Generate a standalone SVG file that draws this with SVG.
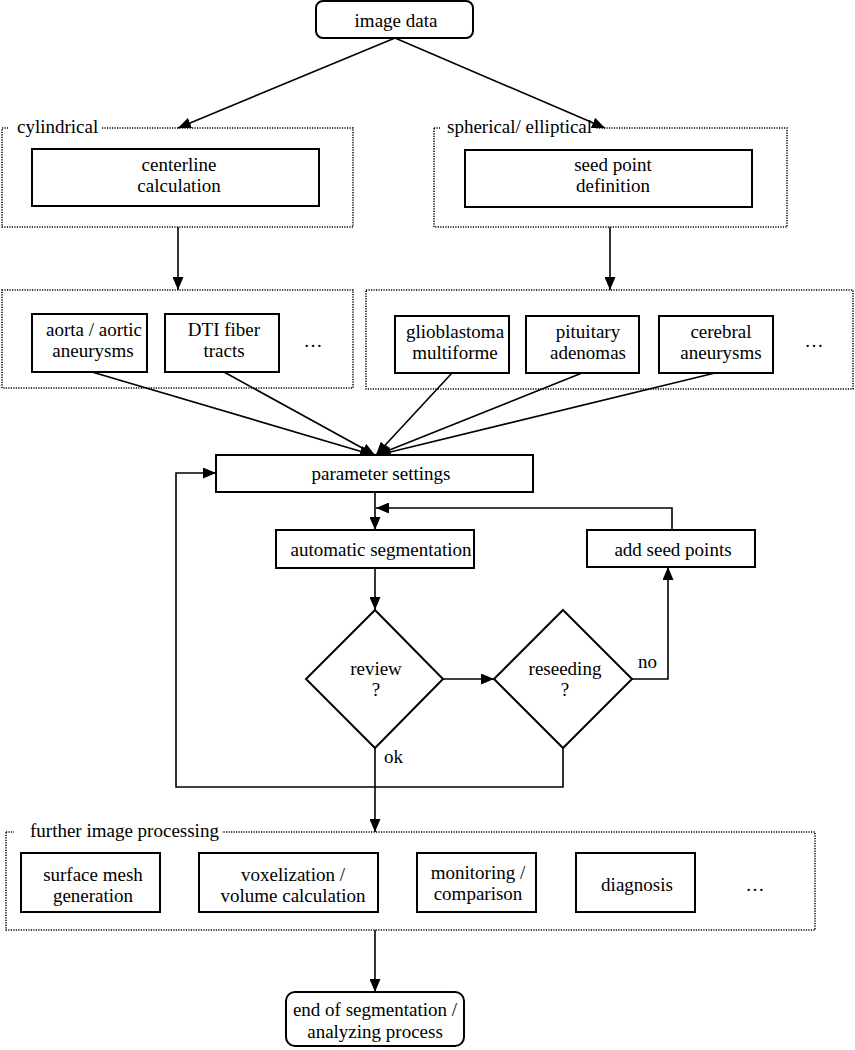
<svg xmlns="http://www.w3.org/2000/svg" width="855" height="1050" viewBox="0 0 855 1050">
<style>
text{font-family:"Liberation Serif","Times New Roman","DejaVu Serif",serif;font-size:19px;fill:#000;text-anchor:middle}
.lbl{text-anchor:start}
.box{fill:#fff;stroke:#000;stroke-width:2}
.grp{fill:none;stroke:#000;stroke-width:1.5;stroke-dasharray:1.2 1.3}
.ln{fill:none;stroke:#000;stroke-width:1.6}
</style>
<defs>
<marker id="ah" viewBox="0 0 13 11" refX="13" refY="5.5" markerWidth="13" markerHeight="11" markerUnits="userSpaceOnUse" orient="auto">
<path d="M0,0 L13,5.5 L0,11 z" fill="#000"/>
</marker>
</defs>
<rect width="855" height="1050" fill="#fff"/>

<g id="group-cylindrical">
<rect class="grp" x="2" y="128" width="351" height="99"/>
<rect x="8" y="118" width="94" height="18" fill="#fff"/>
<text class="lbl" x="17" y="133">cylindrical</text>
</g>
<g id="group-spherical">
<rect class="grp" x="434" y="128" width="353" height="99"/>
<rect x="440" y="118" width="156" height="18" fill="#fff"/>
<text class="lbl" x="447" y="133">spherical/ elliptical</text>
</g>
<g id="group-cyl-apps">
<rect class="grp" x="2" y="290" width="351" height="98"/>
</g>
<g id="group-sph-apps">
<rect class="grp" x="366" y="290" width="487" height="99"/>
</g>
<g id="group-further">
<rect class="grp" x="6" y="832" width="809" height="98"/>
<rect x="14" y="822" width="208" height="18" fill="#fff"/>
<text class="lbl" x="30" y="837">further image processing</text>
</g>

<g id="connectors">
<line class="ln" x1="395" y1="38" x2="178" y2="128" marker-end="url(#ah)"/>
<line class="ln" x1="395" y1="38" x2="605" y2="128" marker-end="url(#ah)"/>
<line class="ln" x1="178" y1="227" x2="178" y2="290" marker-end="url(#ah)"/>
<line class="ln" x1="610" y1="227" x2="610" y2="290" marker-end="url(#ah)"/>
<line class="ln" x1="92" y1="372" x2="373" y2="455" marker-end="url(#ah)"/>
<line class="ln" x1="224" y1="372" x2="375" y2="455" marker-end="url(#ah)"/>
<line class="ln" x1="452" y1="373" x2="376" y2="455" marker-end="url(#ah)"/>
<line class="ln" x1="582" y1="373" x2="377" y2="455" marker-end="url(#ah)"/>
<line class="ln" x1="715" y1="373" x2="378" y2="455" marker-end="url(#ah)"/>
<line class="ln" x1="375" y1="492" x2="375" y2="530" marker-end="url(#ah)"/>
<polyline class="ln" points="672,530 672,508 376,508" marker-end="url(#ah)"/>
<line class="ln" x1="375" y1="568" x2="375" y2="610" marker-end="url(#ah)"/>
<line class="ln" x1="443" y1="679" x2="494" y2="679" marker-end="url(#ah)"/>
<polyline class="ln" points="632,679 668,679 668,567" marker-end="url(#ah)"/>
<polyline class="ln" points="563,748 563,787 176,787 176,473 216,473" marker-end="url(#ah)"/>
<line class="ln" x1="375" y1="748" x2="375" y2="832" marker-end="url(#ah)"/>
<line class="ln" x1="375" y1="930" x2="375" y2="992" marker-end="url(#ah)"/>
<text class="lbl" x="638" y="668">no</text>
<text class="lbl" x="384" y="763">ok</text>
</g>

<g id="image-data">
<rect class="box" x="316" y="1" width="157" height="37" rx="7"/>
<text x="396" y="27">image data</text>
</g>
<g id="centerline">
<rect class="box" x="32" y="149" width="287" height="57"/>
<text x="179" y="171">centerline</text>
<text x="179" y="192">calculation</text>
</g>
<g id="seed-point">
<rect class="box" x="465" y="150" width="287" height="57"/>
<text x="613" y="171">seed point</text>
<text x="613" y="192">definition</text>
</g>
<g id="aorta">
<rect class="box" x="32" y="314" width="115" height="58"/>
<text x="94" y="336">aorta / aortic</text>
<text x="93" y="357">aneurysms</text>
</g>
<g id="dti">
<rect class="box" x="165" y="314" width="114" height="58"/>
<text x="224" y="336">DTI fiber</text>
<text x="224" y="357">tracts</text>
</g>
<text id="cyl-more" x="313" y="347">…</text>
<g id="glioblastoma">
<rect class="box" x="395" y="316" width="114" height="57"/>
<text x="455" y="338">glioblastoma</text>
<text x="455" y="359">multiforme</text>
</g>
<g id="pituitary">
<rect class="box" x="526" y="316" width="113" height="57"/>
<text x="588" y="338">pituitary</text>
<text x="588" y="359">adenomas</text>
</g>
<g id="cerebral">
<rect class="box" x="659" y="316" width="114" height="57"/>
<text x="721" y="338">cerebral</text>
<text x="721" y="359">aneurysms</text>
</g>
<text id="sph-more" x="814" y="347">…</text>
<g id="parameter-settings">
<rect class="box" x="216" y="455" width="317" height="37"/>
<text x="381" y="480">parameter settings</text>
</g>
<g id="automatic-segmentation">
<rect class="box" x="276" y="530" width="198" height="38"/>
<text x="381" y="556">automatic segmentation</text>
</g>
<g id="add-seed-points">
<rect class="box" x="587" y="530" width="168" height="37"/>
<text x="673" y="556">add seed points</text>
</g>
<g id="review">
<polygon class="box" points="375,610 443,679 375,748 306,679"/>
<text x="376" y="675">review</text>
<text x="376" y="696">?</text>
</g>
<g id="reseeding">
<polygon class="box" points="563,610 632,679 563,748 494,679"/>
<text x="565" y="675">reseeding</text>
<text x="565" y="696">?</text>
</g>
<g id="surface-mesh">
<rect class="box" x="21" y="853" width="139" height="59"/>
<text x="93" y="881">surface mesh</text>
<text x="93" y="902">generation</text>
</g>
<g id="voxelization">
<rect class="box" x="199" y="853" width="179" height="59"/>
<text x="293" y="881">voxelization /</text>
<text x="293" y="902">volume calculation</text>
</g>
<g id="monitoring">
<rect class="box" x="417" y="853" width="119" height="59"/>
<text x="478" y="879">monitoring /</text>
<text x="478" y="900">comparison</text>
</g>
<g id="diagnosis">
<rect class="box" x="576" y="853" width="119" height="59"/>
<text x="637" y="891">diagnosis</text>
</g>
<text id="further-more" x="755" y="891">…</text>
<g id="end">
<rect class="box" x="286" y="992" width="178" height="54" rx="9"/>
<text x="375" y="1016">end of segmentation /</text>
<text x="375" y="1038">analyzing process</text>
</g>
</svg>
